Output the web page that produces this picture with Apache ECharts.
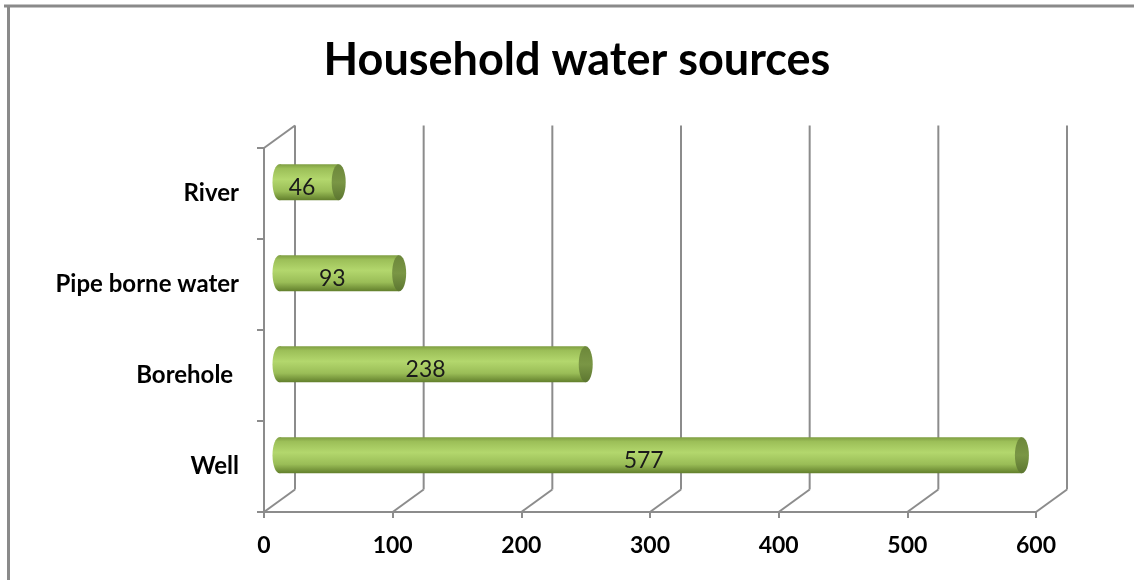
<!DOCTYPE html>
<html>
<head>
<meta charset="utf-8">
<title>Household water sources</title>
<script src="https://cdn.jsdelivr.net/npm/echarts@6/dist/echarts.min.js"></script>
<style>
  html, body { margin: 0; padding: 0; background: #fff; }
  #chart { width: 1134px; height: 580px; }
</style>
</head>
<body>
<div id="chart"></div>
<script>
// data (bottom to top)
const categories = ['Well', 'Borehole ', 'Pipe borne water', 'River']
const values = [577, 238, 93, 46]
const xTicks = [0, 100, 200, 300, 400, 500, 600]

const FONT = 'Lato'
const GRID_COLOR = '#8c8c8c'
// 3d depth of the plot box
const DX = 31
const DY = -22.5

const chart = echarts.init(document.getElementById('chart'))

// perspective gridlines: back wall verticals + floor diagonals
function renderGrid(params, api) {
  const cs = params.coordSys
  const x = api.coord([api.value(0), 0])[0]
  const top = cs.y
  const bottom = cs.y + cs.height
  const style = { stroke: GRID_COLOR, lineWidth: 2 }
  const children = [
    { type: 'line', shape: { x1: x + DX, y1: top + DY, x2: x + DX, y2: bottom + DY }, style },
    { type: 'line', shape: { x1: x, y1: bottom, x2: x + DX, y2: bottom + DY }, style }
  ]
  if (params.dataIndex === 0) {
    children.push({ type: 'line', shape: { x1: x, y1: top, x2: x + DX, y2: top + DY }, style })
  }
  return { type: 'group', children }
}

// cylinder bars sitting half way into the box
function renderCylinder(params, api) {
  const start = api.coord([0, api.value(1)])
  const end = api.coord([api.value(0), api.value(1)])
  const h = 36
  const rx = 7
  const y = start[1] - h / 2
  const body = new echarts.graphic.LinearGradient(0, 0, 0, 1, [
    { offset: 0, color: '#7f9e42' },
    { offset: 0.12, color: '#9cbf58' },
    { offset: 0.42, color: '#b3d76d' },
    { offset: 0.75, color: '#9abd57' },
    { offset: 1, color: '#627f2c' }
  ])
  const cap = new echarts.graphic.LinearGradient(0, 0, 0, 1, [
    { offset: 0, color: '#6c873a' },
    { offset: 0.5, color: '#7a9645' },
    { offset: 1, color: '#5c7630' }
  ])
  return {
    type: 'group',
    children: [
      { type: 'ellipse', shape: { cx: start[0], cy: start[1], rx: rx, ry: h / 2 }, style: { fill: body } },
      { type: 'rect', shape: { x: start[0], y: y, width: end[0] - start[0], height: h }, style: { fill: body } },
      { type: 'ellipse', shape: { cx: end[0], cy: end[1], rx: rx, ry: h / 2 }, style: { fill: cap } },
      {
        type: 'text',
        x: (start[0] + end[0]) / 2 - 7,
        y: start[1] + 5,
        style: {
          text: String(api.value(0)),
          fill: '#1a1a1a',
          font: '23px ' + FONT,
          align: 'center',
          verticalAlign: 'middle'
        }
      }
    ]
  }
}

const option = {
  backgroundColor: '#fff',
  animation: false,
  title: {
    text: 'Household water sources',
    left: 572,
    top: 33,
    textAlign: 'center',
    textStyle: { fontFamily: FONT, fontSize: 45, fontWeight: 'bold', color: '#000' }
  },
  graphic: [
    { type: 'line', shape: { x1: 4, y1: 6, x2: 1134, y2: 6 }, style: { stroke: '#8a8a8a', lineWidth: 3 } },
    { type: 'line', shape: { x1: 8.5, y1: 6, x2: 8.5, y2: 580 }, style: { stroke: '#8a8a8a', lineWidth: 3 } }
  ],
  grid: [
    // front face
    { left: 264, right: 98, top: 148, bottom: 68 },
    // middle plane for the bars
    { left: 264 + DX / 2, right: 98 - DX / 2, top: 148 + DY / 2, bottom: 68 - DY / 2 }
  ],
  xAxis: [
    {
      type: 'value',
      gridIndex: 0,
      min: xTicks[0],
      max: xTicks[xTicks.length - 1],
      interval: 100,
      splitLine: { show: false },
      axisLine: { show: true, lineStyle: { color: GRID_COLOR, width: 2 } },
      axisTick: { show: true, length: 6, lineStyle: { color: GRID_COLOR, width: 2 } },
      axisLabel: { margin: 22, fontFamily: FONT, fontSize: 23, fontWeight: 'bold', color: '#000' }
    },
    {
      type: 'value',
      gridIndex: 1,
      min: xTicks[0],
      max: xTicks[xTicks.length - 1],
      show: false
    }
  ],
  yAxis: [
    {
      type: 'category',
      gridIndex: 0,
      data: categories,
      axisLine: { show: true, lineStyle: { color: GRID_COLOR, width: 2 } },
      axisTick: { show: true, length: 7, lineStyle: { color: GRID_COLOR, width: 2 } },
      axisLabel: {
        margin: 25,
        padding: [6, 0, 0, 0],
        fontFamily: FONT,
        fontSize: 24,
        fontWeight: 'bold',
        color: '#000'
      }
    },
    {
      type: 'category',
      gridIndex: 1,
      data: categories,
      show: false
    }
  ],
  series: [
    {
      type: 'custom',
      xAxisIndex: 0,
      yAxisIndex: 0,
      renderItem: renderGrid,
      data: xTicks.map(v => [v]),
      silent: true,
      z: 1
    },
    {
      type: 'custom',
      xAxisIndex: 1,
      yAxisIndex: 1,
      renderItem: renderCylinder,
      data: values.map((v, i) => [v, i]),
      z: 5
    }
  ]
}

chart.setOption(option)
</script>
</body>
</html>
